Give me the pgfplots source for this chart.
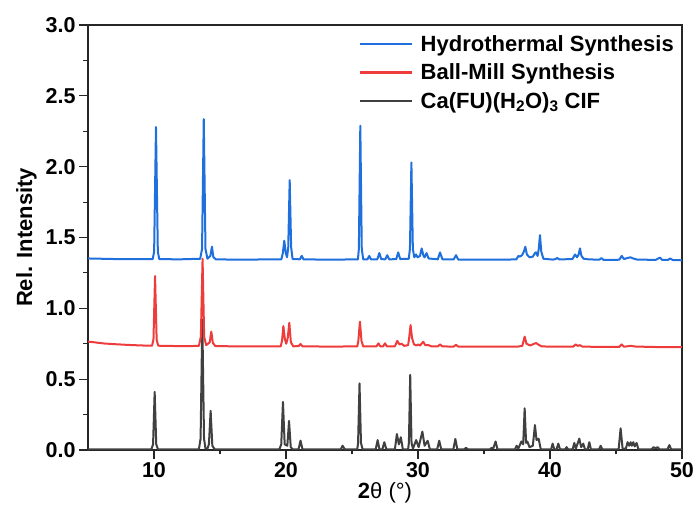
\documentclass[border=0pt]{standalone}
\usepackage{fontspec}
\setmainfont{Liberation Sans}
\usepackage{pgfplots}
\pgfplotsset{compat=1.18}
\usepackage{pgfplotstable}
\definecolor{hydro}{HTML}{1F6FDC}
\definecolor{ballmill}{HTML}{EE3B3B}
\definecolor{cif}{HTML}{404040}

% calculated pattern (CIF)
\pgfplotstableread{
x y
5.0 0.005
9.8 0.005
9.93 0.04
10.05 0.41
10.17 0.04
10.3 0.005
13.4 0.005
13.53 0.08
13.66 0.92
13.79 0.08
13.9 0.01
14.05 0.01
14.16 0.04
14.29 0.277
14.42 0.03
14.6 0.005
19.5 0.005
19.64 0.04
19.77 0.34
19.9 0.04
20.1 0.03
20.23 0.205
20.36 0.02
20.5 0.005
20.95 0.005
21.1 0.066
21.25 0.005
24.15 0.005
24.29 0.03
24.45 0.005
25.4 0.005
25.46 0.05
25.57 0.47
25.68 0.05
25.8 0.005
26.8 0.005
26.94 0.07
27.08 0.005
27.3 0.005
27.45 0.055
27.6 0.005
28.25 0.005
28.4 0.113
28.55 0.04
28.7 0.09
28.85 0.005
29.25 0.005
29.31 0.05
29.41 0.53
29.51 0.05
29.62 0.01
29.86 0.07
30.05 0.02
30.33 0.13
30.5 0.03
30.73 0.065
30.9 0.005
31.45 0.005
31.61 0.065
31.76 0.005
32.68 0.005
32.83 0.078
32.98 0.005
33.5 0.005
33.64 0.015
33.78 0.005
35.45 0.005
35.58 0.015
35.7 0.01
35.88 0.06
36.02 0.005
37.35 0.005
37.47 0.03
37.6 0.01
37.83 0.06
37.97 0.04
38.08 0.294
38.19 0.05
38.28 0.06
38.45 0.02
38.7 0.03
38.86 0.176
38.98 0.07
39.14 0.08
39.3 0.005
40.08 0.005
40.2 0.045
40.32 0.005
40.5 0.005
40.63 0.045
40.76 0.005
41.15 0.005
41.26 0.02
41.37 0.005
41.72 0.005
41.84 0.05
41.96 0.01
42.22 0.08
42.36 0.02
42.52 0.045
42.65 0.005
42.85 0.005
42.98 0.055
43.1 0.005
43.72 0.005
43.84 0.03
43.96 0.005
45.2 0.005
45.35 0.153
45.5 0.01
45.75 0.01
45.88 0.055
46.0 0.03
46.11 0.055
46.2 0.03
46.31 0.055
46.42 0.025
46.56 0.05
46.7 0.005
47.7 0.005
47.85 0.02
48.0 0.012
48.15 0.02
48.3 0.005
48.9 0.005
49.04 0.035
49.18 0.005
50.0 0.005
}\cifdata

% ball-mill synthesis
\pgfplotstableread{
x y
5.0 0.765
5.5 0.760
6.2 0.752
7.0 0.747
8.0 0.742
9.0 0.738
9.85 0.736
9.96 0.78
10.08 1.228
10.2 0.78
10.32 0.736
11.5 0.734
12.5 0.733
13.4 0.735
13.55 0.80
13.68 1.35
13.8 0.80
13.95 0.74
14.22 0.76
14.34 0.835
14.46 0.755
14.65 0.733
16.0 0.732
18.0 0.731
19.6 0.732
19.7 0.77
19.8 0.875
19.92 0.78
20.02 0.75
20.13 0.79
20.25 0.898
20.37 0.76
20.55 0.732
20.95 0.733
21.1 0.748
21.25 0.732
23.0 0.730
25.4 0.731
25.48 0.77
25.6 0.906
25.72 0.77
25.85 0.731
26.85 0.731
27.0 0.753
27.15 0.731
27.35 0.731
27.5 0.753
27.65 0.731
28.25 0.732
28.43 0.77
28.6 0.745
28.76 0.75
28.95 0.735
29.25 0.74
29.33 0.79
29.44 0.882
29.55 0.79
29.7 0.745
29.88 0.738
30.02 0.745
30.15 0.737
30.4 0.764
30.55 0.74
30.8 0.74
31.0 0.732
31.5 0.731
31.67 0.745
31.85 0.731
32.7 0.730
32.88 0.742
33.05 0.730
35.0 0.729
36.0 0.730
37.5 0.729
37.9 0.735
38.08 0.80
38.22 0.75
38.5 0.738
38.75 0.748
38.94 0.755
39.1 0.745
39.35 0.732
40.0 0.729
41.75 0.729
41.94 0.745
42.1 0.735
42.27 0.74
42.45 0.730
43.5 0.728
45.25 0.728
45.43 0.745
45.6 0.729
46.1 0.735
46.5 0.730
48.0 0.727
50.0 0.726
}\balldata

% hydrothermal synthesis
\pgfplotstableread{
x y
5.0 1.352
7.0 1.348
9.9 1.347
10.01 1.40
10.15 2.28
10.29 1.40
10.4 1.347
12.0 1.346
13.5 1.350
13.64 1.42
13.77 2.336
13.9 1.42
14.05 1.350
14.27 1.37
14.39 1.435
14.5 1.36
14.7 1.345
17.0 1.344
19.65 1.346
19.76 1.39
19.87 1.477
19.98 1.39
20.08 1.36
20.17 1.43
20.28 1.905
20.39 1.43
20.5 1.348
21.05 1.346
21.19 1.37
21.33 1.345
24.0 1.344
25.45 1.346
25.52 1.42
25.63 2.289
25.74 1.42
25.85 1.346
26.18 1.346
26.31 1.37
26.44 1.345
26.92 1.346
27.07 1.39
27.22 1.347
27.52 1.346
27.67 1.375
27.82 1.346
28.35 1.347
28.5 1.395
28.65 1.348
29.3 1.350
29.39 1.42
29.5 2.03
29.61 1.42
29.72 1.36
29.85 1.38
29.97 1.36
30.15 1.37
30.28 1.423
30.42 1.37
30.5 1.36
30.65 1.39
30.8 1.352
31.5 1.346
31.67 1.395
31.85 1.346
32.7 1.345
32.88 1.375
33.05 1.344
35.0 1.343
37.45 1.345
37.6 1.37
37.72 1.365
37.88 1.375
38.02 1.40
38.13 1.435
38.25 1.38
38.45 1.36
38.7 1.365
38.86 1.39
38.94 1.395
39.06 1.37
39.15 1.42
39.24 1.517
39.34 1.40
39.5 1.350
40.2 1.344
40.4 1.347
40.55 1.355
40.7 1.345
41.7 1.348
41.9 1.38
42.05 1.36
42.17 1.38
42.27 1.423
42.38 1.37
42.55 1.350
43.0 1.345
43.75 1.344
43.9 1.355
44.05 1.342
45.25 1.343
45.43 1.37
45.6 1.348
45.9 1.356
46.1 1.36
46.3 1.352
46.6 1.344
48.0 1.342
48.33 1.358
48.5 1.342
48.95 1.342
49.1 1.352
49.3 1.341
50.0 1.339
}\hydrodata

\begin{document}
\begin{tikzpicture}
\begin{axis}[
    at={(0,0)}, anchor=south west,
    width=594pt, height=425pt, scale only axis,
    xmin=5, xmax=50, ymin=0, ymax=3,
    xtick={10,20,30,40,50},
    ytick={0,0.5,1,1.5,2,2.5,3},
    minor x tick num=1, minor y tick num=1,
    axis line style={black!85, line width=1.1pt},
    every tick/.style={black!85, line width=1.1pt},
    tick align=outside,
    major tick length=9pt, minor tick length=4.5pt,
    xtick pos=bottom, ytick pos=left,
    yticklabel style={/pgf/number format/.cd, fixed, fixed zerofill, precision=1},
    /pgf/number format/assume math mode=true,
    ticklabel style={font=\bfseries\fontsize{21.5}{24}\selectfont},
    xlabel={\textbf{2}θ (°)},
    ylabel={\textbf{Rel. Intensity}},
    xlabel style={font=\fontsize{22}{24}\selectfont, yshift=2pt},
    ylabel style={font=\fontsize{22}{24}\selectfont, yshift=2pt},
    legend style={at={(1,1)}, anchor=north east, xshift=-6pt, yshift=-8pt,
        draw=none, fill=none, font=\bfseries\fontsize{22}{24}\selectfont,
        row sep=9pt, inner sep=1pt,
        nodes={inner sep=1pt},
        /tikz/every odd column/.append style={column sep=7pt}},
    legend cell align=left,
    reverse legend,
    legend image code/.code={\draw[#1, line width=2.4pt] (0pt,0pt) -- (52pt,0pt);},
    clip=true,
]
\addplot[cif, line width=2pt, line join=round] table {\cifdata};
\addlegendentry{Ca(FU)(H\textsubscript{2}O)\textsubscript{3} CIF}
\addplot[ballmill, line width=2pt, line join=round] table {\balldata};
\addlegendentry{Ball-Mill Synthesis}
\addplot[hydro, line width=2pt, line join=round] table {\hydrodata};
\addlegendentry{Hydrothermal Synthesis}
\end{axis}
\pgfresetboundingbox
\path (-88pt,-63pt) rectangle (609pt,450pt);
\end{tikzpicture}
\end{document}
